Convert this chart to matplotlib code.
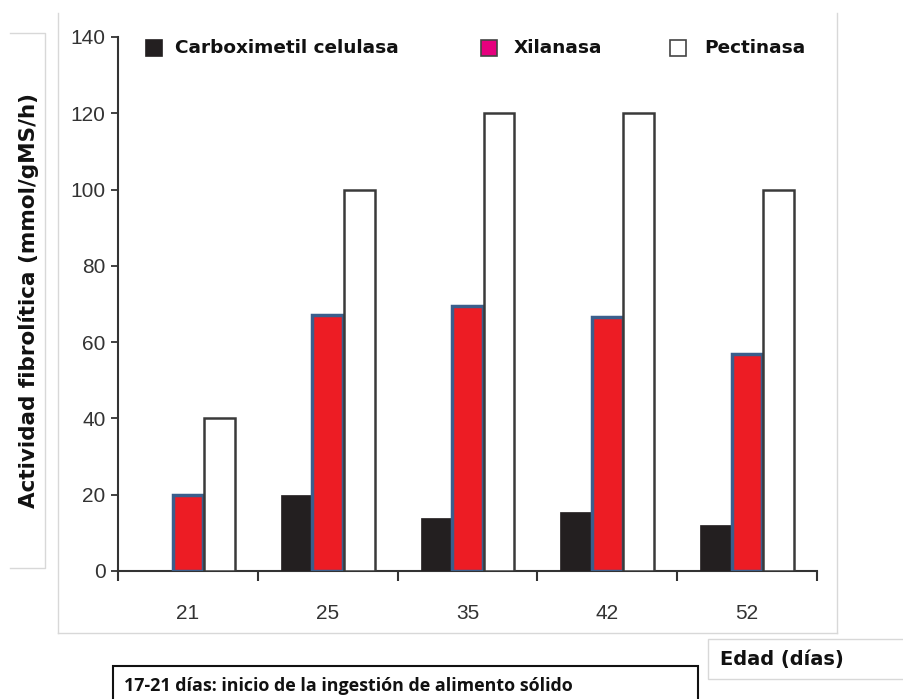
import matplotlib
matplotlib.use("Agg")
import matplotlib.pyplot as plt
from matplotlib.patches import Rectangle
import numpy as np

dias = ["21", "25", "35", "42", "52"]
carboximetil = [0, 20, 14, 15.5, 12]
xilanasa = [20, 67, 69.5, 66.5, 57]
pectinasa = [40, 100, 120, 120, 100]
y_ticks = [0, 20, 40, 60, 80, 100, 120, 140]

W, H = 904, 699
fig = plt.figure(figsize=(W / 100, H / 100), dpi=100)
fig.patch.set_facecolor("white")

def fx(px):
    return px / W

def fy(py):
    return 1 - py / H

ax = fig.add_axes([fx(118), fy(571), fx(817) - fx(118), fy(37) - fy(571)])
x = np.arange(len(dias))
bw = 0.22
ax.bar(x - 0.225, carboximetil, bw, color="#231F20", edgecolor="#231F20", lw=0.5, zorder=3)
ax.bar(x, xilanasa, bw, color="#ED1C24", edgecolor="#3B5E8C", lw=2.5, zorder=3)
ax.bar(x + 0.225, pectinasa, bw, color="white", edgecolor="#3a3a3a", lw=1.8, zorder=3)

ax.set_xlim(-0.5, len(dias) - 0.5)
ax.set_ylim(0, 140)
ax.set_yticks(y_ticks)
ax.set_yticklabels([str(v) for v in y_ticks], fontsize=15,
                   family="Liberation Sans", color="#333333")
ax.set_xticks(x)
ax.set_xticklabels(dias, fontsize=15, family="Liberation Sans", color="#333333")
ax.tick_params(axis="x", which="major", length=0, pad=24)
ax.set_xticks(np.arange(-0.5, len(dias)), minor=True)
ax.tick_params(axis="x", which="minor", length=7, width=1.5, color="#333333", direction="out")
ax.tick_params(axis="y", length=5, width=1.3, color="#333333", direction="out", pad=4)
for s in ["top", "right"]:
    ax.spines[s].set_visible(False)
for s in ["left", "bottom"]:
    ax.spines[s].set_color("#333333")
    ax.spines[s].set_linewidth(1.5)

# legend drawn as squares with labels along the top
legend_items = [
    (146, "#231F20", "#231F20", "Carboximetil celulasa", 175),
    (481, "#E6007E", "#444444", "Xilanasa", 514),
    (670, "white", "#444444", "Pectinasa", 704),
]
for sx, fc, ec, label, tx in legend_items:
    fig.patches.append(Rectangle((fx(sx), fy(56)), fx(16), 16 / H, transform=fig.transFigure,
                                 facecolor=fc, edgecolor=ec, lw=1.2))
    fig.text(fx(tx), fy(48), label, fontsize=13.3, fontweight="bold",
             family="DejaVu Sans", va="center", ha="left", color="#111111")

# faint frames
fig.add_artist(plt.Line2D([fx(58), fx(58)], [fy(13), fy(633)], color="#d8d8d8", lw=1))
fig.add_artist(plt.Line2D([fx(58), fx(837)], [fy(633), fy(633)], color="#d8d8d8", lw=1))
fig.add_artist(plt.Line2D([fx(837), fx(837)], [fy(13), fy(633)], color="#d8d8d8", lw=1))
fig.add_artist(plt.Line2D([fx(10), fx(45), fx(45), fx(10)], [fy(33), fy(33), fy(568), fy(568)],
                          color="#d8d8d8", lw=1))

fig.text(fx(29), fy(301), "Actividad fibrolítica (mmol/gMS/h)", rotation=90,
         fontsize=15.5, fontweight="bold", family="DejaVu Sans", ha="center", va="center",
         color="#111111")

fig.patches.append(Rectangle((fx(708), fy(679)), fx(904) - fx(708) + 0.01, 40 / H,
                             transform=fig.transFigure, facecolor="white",
                             edgecolor="#d8d8d8", lw=1))
fig.text(fx(720), fy(660), "Edad (días)", fontsize=14, fontweight="bold",
         family="DejaVu Sans", ha="left", va="center", color="#111111")

fig.patches.append(Rectangle((fx(113), fy(710)), fx(698) - fx(113), 44 / H,
                             transform=fig.transFigure, facecolor="white",
                             edgecolor="#111111", lw=1.5))
fig.text(fx(124), fy(686), "17-21 días: inicio de la ingestión de alimento sólido",
         fontsize=12.9, fontweight="bold", family="Open Sans", ha="left", va="center",
         color="#111111")

fig.savefig("out.png", dpi=100, facecolor="white")
